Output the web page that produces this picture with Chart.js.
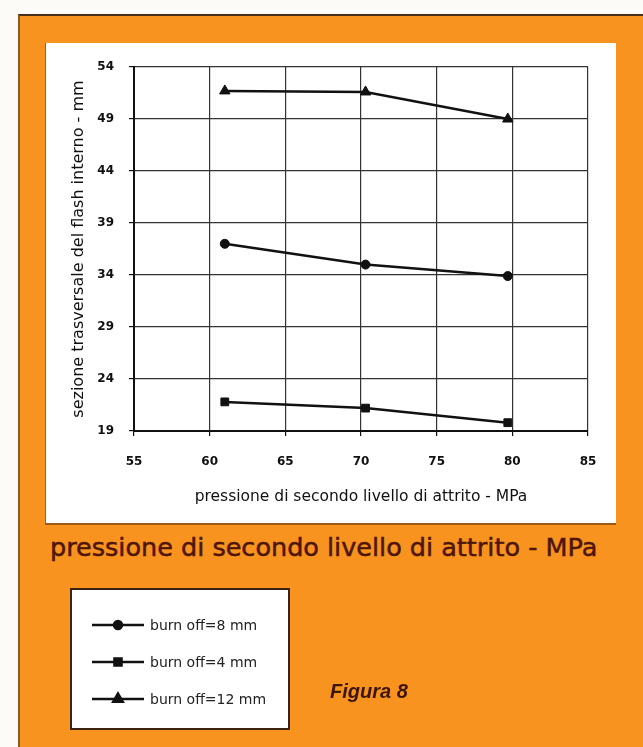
<!DOCTYPE html>
<html>
<head>
<meta charset="utf-8">
<script src="https://cdn.jsdelivr.net/npm/chart.js"></script>
<style>
  body { margin: 0; width: 643px; height: 747px; background: #fcfbf8; overflow: hidden; position: relative; font-family: "DejaVu Sans", sans-serif; }
  #frame { position: absolute; left: 18px; top: 14px; right: 0; bottom: 0; background: #f7931e; border-top: 2px solid #4a3018; border-left: 2px solid #8a5a20; }
  #panel { position: absolute; left: 45px; top: 43px; width: 570px; height: 480px; background: #fff; border-left: 1px solid #a06020; border-bottom: 2px solid #a05a18; }
  #subtitle { position: absolute; left: 50px; top: 535px; font-size: 25.5px; line-height: 1; color: #4e1508; -webkit-text-stroke: 0.5px #4e1508; white-space: nowrap; }
  #legendBox { position: absolute; left: 70px; top: 588px; width: 216px; height: 138px; background: #fff; border: 2px solid #3a2410; }
  .item { position: absolute; left: 20px; height: 16px; display: flex; align-items: center; font-size: 14px; color: #222; white-space: nowrap; }
  .item canvas { margin-right: 6px; }
  #figura { position: absolute; left: 330px; top: 680px; font-family: "Liberation Sans", Arial, sans-serif; font-weight: bold; font-style: italic; font-size: 20px; color: #3d1505; }
</style>
</head>
<body>
<div id="frame"></div>
<div id="panel"><canvas id="chart" width="570" height="480"></canvas></div>
<div id="subtitle">pressione di secondo livello di attrito - MPa</div>
<div id="legendBox"></div>
<div id="figura">Figura 8</div>
<script>
// values
const pressure = [61, 70.3, 79.7];
const burnOff8 = [37.0, 35.0, 33.9];
const burnOff4 = [21.8, 21.2, 19.8];
const burnOff12 = [51.7, 51.6, 49.0];
const seriesLabels = ['burn off=8 mm', 'burn off=4 mm', 'burn off=12 mm'];
const xTicks = [55, 60, 65, 70, 75, 80, 85];
const yTicks = [19, 24, 29, 34, 39, 44, 49, 54];
const xTitle = 'pressione di secondo livello di attrito - MPa';
const yTitle = 'sezione trasversale del flash interno - mm';

const seriesValues = [burnOff8, burnOff4, burnOff12];
const pointStyles = ['circle', 'rect', 'triangle'];
const pointSizes = [4.5, 5.5, 6];

const datasets = seriesValues.map((vals, i) => ({
    label: seriesLabels[i],
    data: vals.map((v, j) => ({ x: pressure[j], y: v })),
    showLine: true,
    borderColor: '#111',
    backgroundColor: '#111',
    borderWidth: 2.5,
    pointStyle: pointStyles[i],
    pointRadius: pointSizes[i],
    pointBorderWidth: 1,
    tension: 0
}));

const ctx = document.getElementById('chart').getContext('2d');
const chart = new Chart(ctx, {
    type: 'scatter',
    data: { datasets: datasets },
    options: {
        responsive: false,
        animation: false,
        layout: { padding: { top: 24, right: 28, left: 0, bottom: 0 } },
        plugins: { legend: { display: false }, tooltip: { enabled: false } },
        scales: {
            x: {
                min: xTicks[0],
                max: xTicks[xTicks.length - 1],
                afterBuildTicks: s => { s.ticks = xTicks.map(v => ({ value: v })); },
                afterFit: s => { s.height = 92; },
                grid: { color: '#333', lineWidth: 1.2, tickLength: 5, tickColor: '#111' },
                border: { color: '#111', width: 2 },
                ticks: { color: '#111', padding: 19, font: { family: 'DejaVu Sans', size: 12, weight: 'bold' }, maxRotation: 0 },
                title: { display: true, text: xTitle, color: '#111', padding: { top: 0, bottom: 17 }, font: { family: 'DejaVu Sans', size: 15.5 } }
            },
            y: {
                min: yTicks[0],
                max: yTicks[yTicks.length - 1],
                afterBuildTicks: s => { s.ticks = yTicks.map(v => ({ value: v })); },
                afterFit: s => { s.width = 88; },
                grid: { color: '#333', lineWidth: 1.2, tickLength: 5, tickColor: '#111' },
                border: { color: '#111', width: 2 },
                ticks: { color: '#111', padding: 15, font: { family: 'DejaVu Sans', size: 12, weight: 'bold' } },
                title: { display: true, text: yTitle, color: '#111', padding: { top: 23, bottom: 0 }, font: { family: 'DejaVu Sans', size: 16 } }
            }
        }
    }
});

// legend in the separate box below, built from the chart datasets
const legendBox = document.getElementById('legendBox');
const rowTops = [27, 64, 101];
chart.data.datasets.forEach((ds, i) => {
    const row = document.createElement('div');
    row.className = 'item';
    row.style.top = rowTops[i] + 'px';
    const c = document.createElement('canvas');
    c.width = 52; c.height = 16;
    const g = c.getContext('2d');
    g.strokeStyle = ds.borderColor;
    g.lineWidth = 2.5;
    g.beginPath(); g.moveTo(0, 8); g.lineTo(52, 8); g.stroke();
    g.fillStyle = ds.backgroundColor;
    if (Chart.helpers && Chart.helpers.drawPoint) {
        Chart.helpers.drawPoint(g, { pointStyle: ds.pointStyle, radius: ds.pointRadius - 0.5, borderWidth: 1 }, 26, 8);
    } else {
        g.beginPath(); g.arc(26, 8, 4, 0, Math.PI * 2); g.fill();
    }
    row.appendChild(c);
    const t = document.createElement('span');
    t.textContent = ds.label;
    row.appendChild(t);
    legendBox.appendChild(row);
});
</script>
</body>
</html>
